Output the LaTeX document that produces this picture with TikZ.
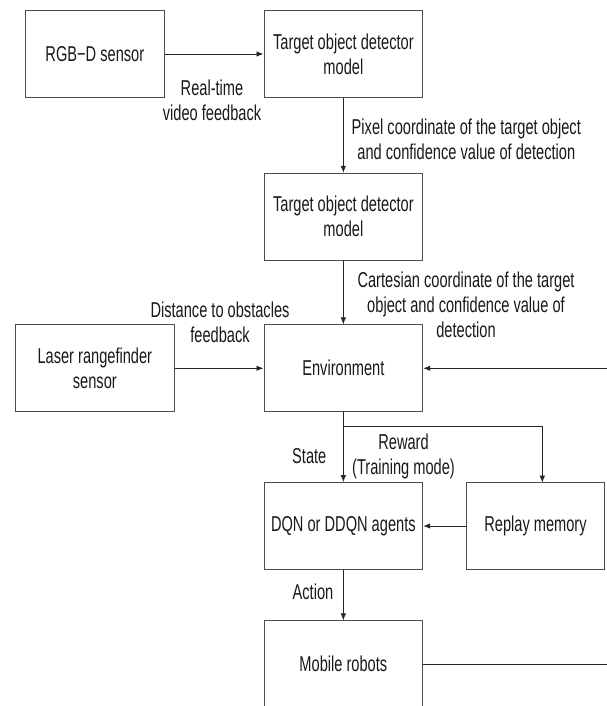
\documentclass[tikz,border=0pt]{standalone}
\usepackage{fontspec}
\setmainfont[FakeStretch=0.68]{Liberation Sans}
\usetikzlibrary{arrows.meta}
\begin{document}
\begin{tikzpicture}[x=1pt,y=-1pt,
  box/.style={draw=black!70, line width=1pt, minimum width=158.7pt, minimum height=86.7pt,
    align=center, inner sep=0pt, text=black!90, font=\fontsize{21.5}{25}\selectfont},
  lbl/.style={align=center, inner sep=0pt, text=black!90, font=\fontsize{21.5}{25}\selectfont},
  conn/.style={draw=black!85, line width=0.9pt},
  arr/.style={conn, -{Latex[length=7pt,width=5.5pt]}}]
\useasboundingbox (0,0) rectangle (607,706);
\clip (0,0) rectangle (607,706);
% boxes
\node[box, minimum width=138.3pt] (rgb) at (94.85,54) {RGB−D sensor};
\node[box] (t1) at (343.35,54) {Target object detector\\model};
\node[box] (t2) at (343.35,216.7) {Target object detector\\model};
\node[box] (env) at (343.35,368.3) {Environment};
\node[box] (laser) at (94.85,368.3) {Laser rangefinder\\sensor};
\node[box] (dqn) at (343.35,526) {DQN or DDQN agents};
\node[box, minimum width=137.6pt] (replay) at (535.5,526) {Replay memory};
\node[box] (mob) at (343.35,664.3) {Mobile robots};
% labels
\node[lbl] (l1) at (212,100.5) {Real-time\\video feedback};
\node[lbl] (l2) at (466.3,139.2) {Pixel coordinate of the target object\\and confidence value of detection};
\node[lbl] (l3) at (466,305) {Cartesian coordinate of the target\\object and confidence value of\\detection};
\node[lbl] (l4) at (220,322) {Distance to obstacles\\feedback};
\node[lbl] (l5) at (309.3,455.7) {State};
\node[lbl] (l6) at (403.5,456.7) {Reward\\(Training mode)};
\node[lbl] (l7) at (313,592.3) {Action};
% coordinates
\coordinate (rin) at (607,368.3);
\coordinate (br) at (343.35,426.7);
\coordinate (rtop) at (542.3,482.7);
\coordinate (rout) at (607,664.3);
% connectors
\draw[arr] (rgb) -- (t1);
\draw[arr] (t1) -- (t2);
\draw[arr] (t2) -- (env);
\draw[arr] (laser) -- (env);
\draw[arr] (rin) -- (env.east);
\draw[arr] (env) -- (dqn);
\draw[arr] (br) -| (rtop);
\draw[arr] (replay) -- (dqn);
\draw[arr] (dqn) -- (mob);
\draw[conn] (mob.east) -- (rout);
\end{tikzpicture}
\end{document}
